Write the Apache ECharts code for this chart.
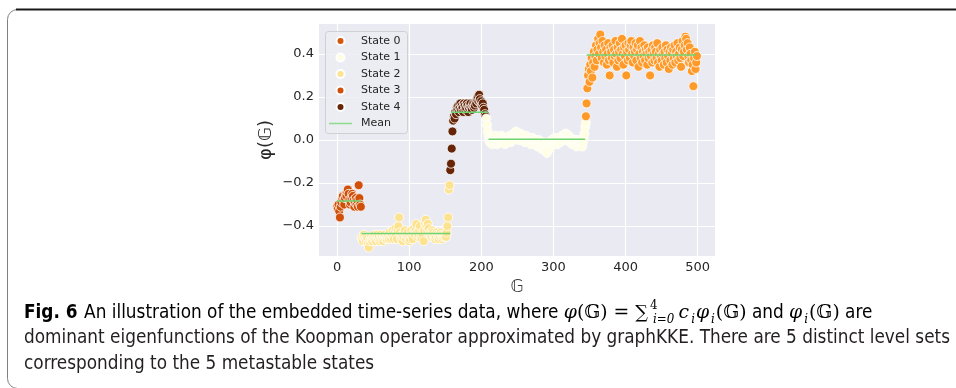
<!DOCTYPE html>
<html>
<head>
<meta charset="utf-8">
<script src="https://cdn.jsdelivr.net/npm/echarts@6/dist/echarts.min.js"></script>
<style>html,body{margin:0;padding:0;background:#fff;}#c{width:956px;height:388px;}</style>
</head>
<body>
<div id="c"></div>
<script>
// ---- data ----
const xTicks = [0, 100, 200, 300, 400, 500];
const yTicks = [-0.4, -0.2, 0.0, 0.2, 0.4];

const state3Start = 0;
const state3Y = [-0.31,-0.32,-0.30,-0.33,-0.36,-0.31,-0.29,-0.27,-0.26,-0.28,-0.30,-0.27,-0.25,-0.26,-0.24,-0.23,-0.25,-0.28,-0.30,-0.29,-0.27,-0.25,-0.26,-0.28,-0.31,-0.29,-0.27,-0.30,-0.28,-0.31,-0.21,-0.27,-0.30,-0.31];

const state2Start = 34;
const state2Y = [
 -0.45,-0.46,-0.47,-0.44,-0.45,-0.46,-0.47,-0.45,-0.46,-0.48,-0.50,-0.47,-0.46,-0.45,-0.46,-0.47,
 -0.45,-0.46,-0.44,-0.46,-0.47,-0.45,-0.44,-0.46,-0.45,-0.47,-0.46,-0.44,-0.45,-0.46,-0.47,-0.45,-0.44,-0.46,-0.45,-0.46,
 -0.45,-0.44,-0.46,-0.43,-0.45,-0.46,-0.44,-0.42,-0.45,-0.46,-0.43,-0.41,-0.44,-0.46,-0.42,-0.40,-0.36,-0.43,-0.45,-0.46,
 -0.44,-0.47,-0.45,-0.43,-0.42,-0.45,-0.46,-0.44,-0.43,-0.45,-0.47,-0.46,-0.44,-0.42,-0.45,-0.46,-0.43,-0.41,-0.44,-0.42,
 -0.39,-0.43,-0.45,-0.44,-0.42,-0.40,-0.45,-0.46,-0.43,-0.44,-0.47,-0.42,-0.39,-0.37,-0.40,-0.42,-0.39,-0.41,-0.44,-0.43,
 -0.44,-0.45,-0.42,-0.43,-0.45,-0.44,-0.46,-0.45,-0.43,-0.44,-0.45,-0.46,-0.44,-0.45,-0.43,-0.44,-0.46,-0.45,-0.44,-0.45,
 -0.44,-0.45,-0.43,-0.40,-0.36,-0.23,-0.21];

const state4Start = 157;
const state4Y = [-0.14,-0.11,-0.04,0.04,0.09,0.11,0.10,0.13,0.12,0.15,
 0.14,0.16,0.13,0.15,0.17,0.14,0.16,0.15,0.13,0.17,
 0.16,0.14,0.15,0.17,0.16,0.13,0.15,0.16,0.17,0.15,
 0.14,0.16,0.17,0.15,0.16,0.18,0.17,0.19,0.20,0.18,
 0.21,0.19,0.17,0.18,0.16,0.17,0.15,0.14,0.12,0.11];

const state1Start = 207;
const state1Y = [0.10,0.07,0.04,0.02,0.00,-0.01,0.01,0.00,-0.02,0.01,
 0.00,-0.01,0.01,0.02,0.00,-0.02,-0.01,0.00,0.01,-0.01,
 0.00,0.02,0.01,-0.01,0.00,0.01,-0.02,0.00,0.01,0.00,
 -0.01,0.01,0.02,0.00,-0.01,0.01,0.00,0.02,0.03,0.01,
 0.02,0.04,0.03,0.01,0.02,0.00,0.01,0.03,0.02,0.00,
 0.01,0.02,0.00,-0.01,0.01,0.02,0.00,-0.01,0.00,0.01,
 0.00,-0.01,-0.02,0.00,0.01,-0.01,0.00,-0.02,-0.01,0.00,
 -0.01,-0.03,-0.02,0.00,-0.01,-0.02,-0.04,-0.03,-0.01,-0.02,
 -0.03,-0.05,-0.04,-0.02,-0.06,-0.03,-0.01,-0.02,-0.04,-0.02,
 -0.01,0.00,-0.02,-0.01,0.00,0.01,-0.01,0.00,-0.02,-0.01,
 0.00,0.01,0.00,-0.01,0.01,0.02,0.00,0.01,0.02,0.01,
 0.03,0.02,0.00,0.01,0.02,0.00,-0.01,0.01,0.00,-0.02,
 -0.01,0.00,-0.02,-0.01,0.00,-0.03,-0.02,0.00,-0.01,-0.02,
 -0.01,0.00,-0.02,-0.03,-0.01,0.01,0.03,0.06,0.08];

const state0Start = 345;
const state0Y = [0.11,0.17,0.24,0.30,0.33,0.27,0.35,0.32,0.38,0.29,
 0.36,0.41,0.34,0.39,0.44,0.37,0.42,0.47,0.40,0.45,
 0.49,0.43,0.38,0.46,0.41,0.36,0.44,0.39,0.42,0.35,
 0.40,0.45,0.37,0.30,0.43,0.41,0.38,0.44,0.36,0.42,
 0.39,0.46,0.40,0.34,0.43,0.37,0.41,0.45,0.38,0.42,
 0.47,0.40,0.35,0.43,0.39,0.44,0.30,0.41,0.37,0.45,
 0.42,0.38,0.44,0.46,0.40,0.36,0.43,0.39,0.41,0.45,
 0.37,0.42,0.44,0.34,0.40,0.46,0.38,0.43,0.36,0.41,
 0.39,0.44,0.37,0.42,0.40,0.35,0.43,0.38,0.41,0.30,
 0.39,0.42,0.36,0.44,0.40,0.37,0.43,0.41,0.38,0.45,
 0.36,0.40,0.34,0.42,0.39,0.37,0.43,0.40,0.35,0.41,
 0.38,0.44,0.36,0.42,0.39,0.33,0.41,0.37,0.43,0.40,
 0.35,0.42,0.38,0.44,0.36,0.41,0.39,0.45,0.37,0.40,
 0.43,0.38,0.34,0.42,0.46,0.39,0.41,0.44,0.48,0.47,
 0.42,0.45,0.39,0.36,0.43,0.40,0.37,0.32,0.35,0.25,
 0.38,0.41,0.33,0.36,0.39];

// mean level of each state: [from, to, value]
const meanSegments = [[0,33,-0.283],[34,157,-0.434],[158,209,0.129],[210,344,0.003],[346,498,0.395]];

// ---- chart ----
const toPts = (start, ys) => ys.map((y, i) => [start + i, y]);
const fmt = v => (Math.abs(v) < 1e-9 ? '0.0' : v.toFixed(1)).replace('-', '\u2212');

const scatterBase = {
  type: 'scatter', symbol: 'circle', symbolSize: 9,
  itemStyle: { borderColor: '#ffffff', borderWidth: 0.8, opacity: 1 },
  emphasis: { disabled: true }, z: 2
};
const mkScatter = (name, color, start, ys) =>
  Object.assign({}, scatterBase, { name, data: toPts(start, ys), itemStyle: Object.assign({}, scatterBase.itemStyle, { color }) });

const meanSeries = meanSegments.map(s => ({
  type: 'line', name: 'Mean', symbol: 'none', silent: true, z: 4,
  lineStyle: { color: '#6fd36f', width: 1.5 }, itemStyle: { color: '#6fd36f' },
  data: [[s[0], s[2]], [s[1], s[2]]]
}));

const axisFont = { fontFamily: 'DejaVu Sans', fontSize: 13, color: '#262626' };

// caption font, squeezed horizontally to the width of the reference lines
const capFamily = "'DejaVu Sans Condensed','Liberation Sans Narrow',sans-serif";
const capSize = 19;
const mctx = document.createElement('canvas').getContext('2d');
mctx.font = capSize + 'px ' + capFamily;
const line2 = 'dominant eigenfunctions of the Koopman operator approximated by graphKKE. There are 5 distinct level sets';
const capScale = Math.min(1, 926 / mctx.measureText(line2).width);

const capText = (extra) => Object.assign({ fontFamily: capFamily, fontSize: capSize, color: '#231f20', lineHeight: 26 }, extra || {});
const mathText = (extra) => Object.assign({ fontFamily: 'DejaVu Serif', fontSize: 19, color: '#231f20', lineHeight: 26 }, extra || {});

const option = {
  animation: false,
  backgroundColor: '#ffffff',
  grid: { left: 319, top: 24, width: 396, height: 232, show: true, backgroundColor: '#EAEAF2', borderWidth: 0, containLabel: false },
  xAxis: {
    type: 'value', min: -25, max: 524,
    axisLine: { show: false },
    axisTick: { show: false, customValues: xTicks },
    axisLabel: Object.assign({ customValues: xTicks, margin: 5, formatter: v => String(v) }, axisFont),
    splitLine: { show: true, lineStyle: { color: '#ffffff', width: 1.1 } },
    name: '\u{1D53E}', nameLocation: 'middle', nameGap: 17,
    nameTextStyle: { fontFamily: 'DejaVu Sans', fontSize: 17, color: '#3a3a3a', verticalAlign: 'top' }
  },
  yAxis: {
    type: 'value', min: -0.539, max: 0.539,
    axisLine: { show: false },
    axisTick: { show: false, customValues: yTicks },
    axisLabel: Object.assign({ customValues: yTicks, margin: 5, formatter: fmt }, axisFont),
    splitLine: { show: true, lineStyle: { color: '#ffffff', width: 1.1 } },
    name: '\u03C6(\u{1D53E})', nameLocation: 'middle', nameGap: 44, nameRotate: 90,
    nameTextStyle: { fontFamily: 'DejaVu Sans', fontSize: 18, color: '#262626' }
  },
  legend: {
    orient: 'vertical', left: 329, top: 34, padding: 0,
    itemWidth: 23, itemHeight: 8, itemGap: 2.5,
    textStyle: { fontFamily: 'DejaVu Sans', fontSize: 11, color: '#262626', lineHeight: 14, padding: [0, 0, 0, 4] },
    selectedMode: false,
    data: [
      { name: 'State 0', icon: 'circle', itemStyle: { color: '#d4550c', borderColor: '#fff', borderWidth: 2 } },
      { name: 'State 1', icon: 'circle' },
      { name: 'State 2', icon: 'circle' },
      { name: 'State 3', icon: 'circle' },
      { name: 'State 4', icon: 'circle' },
      { name: 'Mean', icon: 'path://M0,0H23V1.5H0Z', itemStyle: { color: '#8fdc8f' } }
    ]
  },
  graphic: [
    { type: 'rect', z: 1, silent: true, shape: { x: 325.5, y: 31.5, width: 82, height: 102, r: 3 },
      style: { fill: 'rgba(236,236,243,0.85)', stroke: '#cfcfd4', lineWidth: 1 } },
    { type: 'rect', silent: true, shape: { x: 7.5, y: 9.5, width: 1000, height: 379, r: 10 },
      style: { fill: 'none', stroke: '#808080', lineWidth: 1 } },
    { type: 'line', silent: true, shape: { x1: 16, y1: 9.5, x2: 956, y2: 9.5 },
      style: { stroke: '#1a1a1a', lineWidth: 2 } },
    { type: 'text', x: 24, y: 300, scaleX: capScale, silent: true,
      style: {
        text: '{b|Fig. 6}  {t|An illustration of the embedded time-series data, where }{mi|\u03C6}{m|(\u{1D53E}) = }{sum|\u2211}{sup|4}{sub|i=0}{sp| }{mi|c}{sub|i}{mi|\u03C6}{sub|i}{m|(\u{1D53E})}{t| and }{mi|\u03C6}{sub|i}{m|(\u{1D53E})}{t| are}',
        rich: {
          b: capText({ fontWeight: 'bold' }),
          t: capText(),
          sp: capText({ fontSize: 12 }),
          m: mathText(),
          sum: mathText({ fontSize: 18 }),
          mi: mathText({ fontStyle: 'italic' }),
          sup: mathText({ fontSize: 12, width: 1, align: 'left', verticalAlign: 'top', padding: [0, 0, 12, 2] }),
          sub: mathText({ fontStyle: 'italic', fontSize: 12, verticalAlign: 'bottom', padding: [4, 1, 0, 2] })
        }
      } },
    { type: 'text', x: 24, y: 329, scaleX: capScale, silent: true,
      style: { text: line2, font: capSize + 'px ' + capFamily, fill: '#231f20' } },
    { type: 'text', x: 24, y: 355, scaleX: capScale, silent: true,
      style: { text: 'corresponding to the 5 metastable states', font: capSize + 'px ' + capFamily, fill: '#231f20' } }
  ],
  series: [
    mkScatter('State 3', '#d0500a', state3Start, state3Y),
    mkScatter('State 2', '#fde28f', state2Start, state2Y),
    mkScatter('State 4', '#662506', state4Start, state4Y),
    mkScatter('State 1', '#fffee3', state1Start, state1Y),
    mkScatter('State 0', '#fd9a2a', state0Start, state0Y)
  ].concat(meanSeries)
};

const chart = echarts.init(document.getElementById('c'), null, { renderer: 'canvas' });
chart.setOption(option);
</script>
</body>
</html>
